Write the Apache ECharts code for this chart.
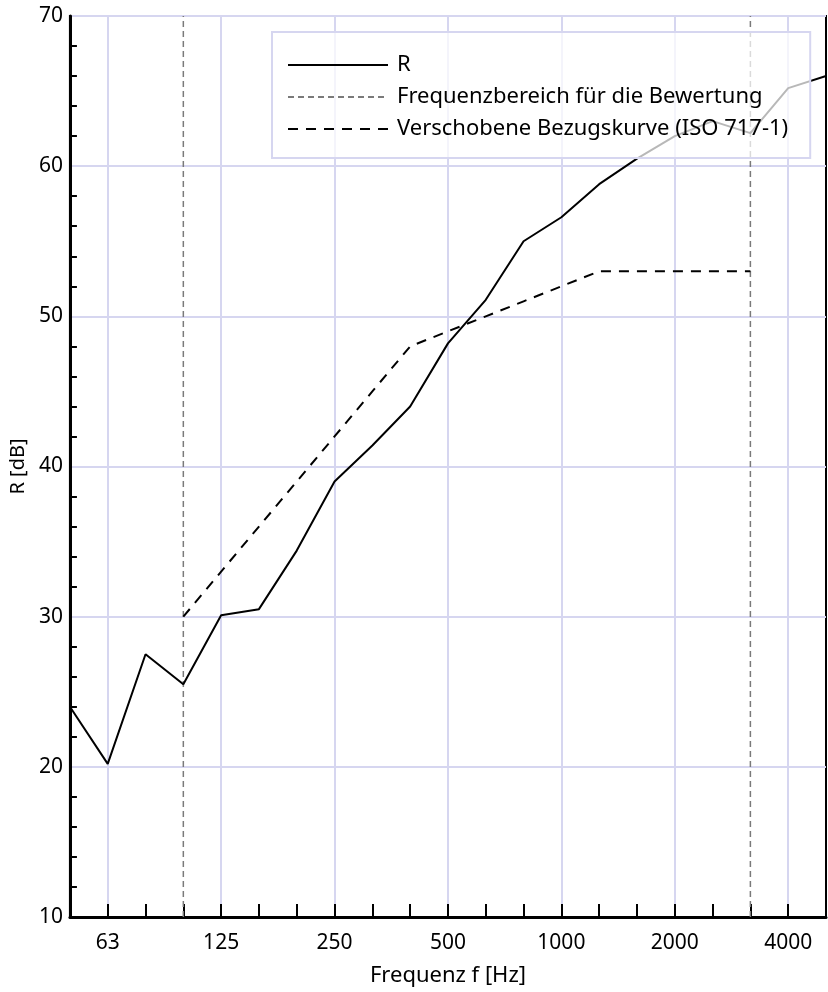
<!DOCTYPE html>
<html>
<head>
<meta charset="utf-8">
<script src="https://cdn.jsdelivr.net/npm/echarts@6/dist/echarts.min.js"></script>
<style>
  html, body { margin: 0; padding: 0; background: #fff; }
  #chart { width: 828px; height: 992px; }
</style>
</head>
<body>
<div id="chart"></div>
<script>
// Terzbänder 50 Hz .. 5000 Hz
const bands = ['50', '63', '80', '100', '125', '160', '200', '250', '315', '400', '500',
  '630', '800', '1000', '1250', '1600', '2000', '2500', '3150', '4000', '5000']
// gemessenes Schalldämmmaß R
const rValues = [24.0, 20.2, 27.5, 25.5, 30.1, 30.5, 34.4, 39.0, 41.4, 44.0, 48.2,
  51.1, 55.0, 56.6, 58.8, 60.5, 62.0, 63.0, 62.2, 65.2, 66.0]
// verschobene Bezugskurve, nur 100..3150 Hz
const refValues = [null, null, null, 30, 33, 36, 39, 42, 45, 48, 49,
  50, 51, 52, 53, 53, 53, 53, 53, null, null]
// Grenzen des Bewertungsbereichs
const rangeBands = ['100', '3150']
const yTicks = [10, 70]

const labelBands = ['63', '125', '250', '500', '1000', '2000', '4000']
const font = 'Noto Sans'
const gridColor = '#d6d6f0'

const chart = echarts.init(document.getElementById('chart'))

const rangeSeries = rangeBands.map(b => ({
  name: 'Frequenzbereich für die Bewertung',
  type: 'line',
  data: [[bands.indexOf(b), yTicks[0]], [bands.indexOf(b), yTicks[1]]],
  symbol: 'none',
  silent: true,
  itemStyle: { color: '#7a7a7a' },
  lineStyle: { color: '#7a7a7a', width: 1.5, type: [6, 4] },
  z: 3
}))

chart.setOption({
  animation: false,
  textStyle: { fontFamily: font },
  grid: {
    left: 68, right: 2, top: 16, bottom: 74,
    show: true, borderColor: '#000', borderWidth: 2
  },
  legend: {
    data: ['R', 'Frequenzbereich für die Bewertung', 'Verschobene Bezugskurve (ISO 717-1)'],
    orient: 'vertical',
    left: 272, top: 32,
    padding: [22, 22, 18, 15],
    itemWidth: 100, itemHeight: 14, itemGap: 10,
    itemStyle: { opacity: 0 },
    backgroundColor: 'rgba(255,255,255,0.72)',
    borderColor: gridColor, borderWidth: 2,
    textStyle: { fontSize: 22, lineHeight: 22, color: '#000', fontFamily: font, padding: [0, 0, 0, 4] },
    selectedMode: false,
    z: 10
  },
  xAxis: {
    type: 'category',
    data: bands,
    boundaryGap: false,
    name: 'Frequenz f [Hz]',
    nameLocation: 'middle',
    nameGap: 48,
    nameTextStyle: { fontSize: 22, color: '#000' },
    axisLine: { lineStyle: { color: '#000', width: 3 } },
    axisTick: { inside: true, length: 13, interval: 0, lineStyle: { color: '#000', width: 2 } },
    axisLabel: {
      interval: (i, v) => labelBands.includes(v),
      fontSize: 21, color: '#000', margin: 16
    },
    splitLine: {
      show: true,
      interval: (i, v) => labelBands.includes(v),
      lineStyle: { color: gridColor, width: 2 }
    }
  },
  yAxis: {
    type: 'value',
    min: yTicks[0], max: yTicks[1], interval: 10,
    name: 'R [dB]',
    nameLocation: 'middle',
    nameGap: 31,
    nameTextStyle: { fontSize: 20, color: '#000' },
    axisLine: { show: true, lineStyle: { color: '#000', width: 3 } },
    axisTick: { inside: true, length: 13, lineStyle: { color: '#000', width: 2 } },
    minorTick: { show: true, splitNumber: 5, length: 7, lineStyle: { color: '#000', width: 2 } },
    axisLabel: { fontSize: 21, color: '#000', margin: 7 },
    splitLine: { lineStyle: { color: gridColor, width: 2 } }
  },
  series: [
    {
      name: 'R',
      type: 'line',
      data: rValues,
      symbol: 'none',
      itemStyle: { color: '#000' },
      lineStyle: { color: '#000', width: 2 },
      z: 4
    },
    ...rangeSeries,
    {
      name: 'Verschobene Bezugskurve (ISO 717-1)',
      type: 'line',
      data: refValues,
      symbol: 'none',
      connectNulls: false,
      itemStyle: { color: '#000' },
      lineStyle: { color: '#000', width: 2, type: [10, 8] },
      z: 4
    }
  ]
})
</script>
</body>
</html>
